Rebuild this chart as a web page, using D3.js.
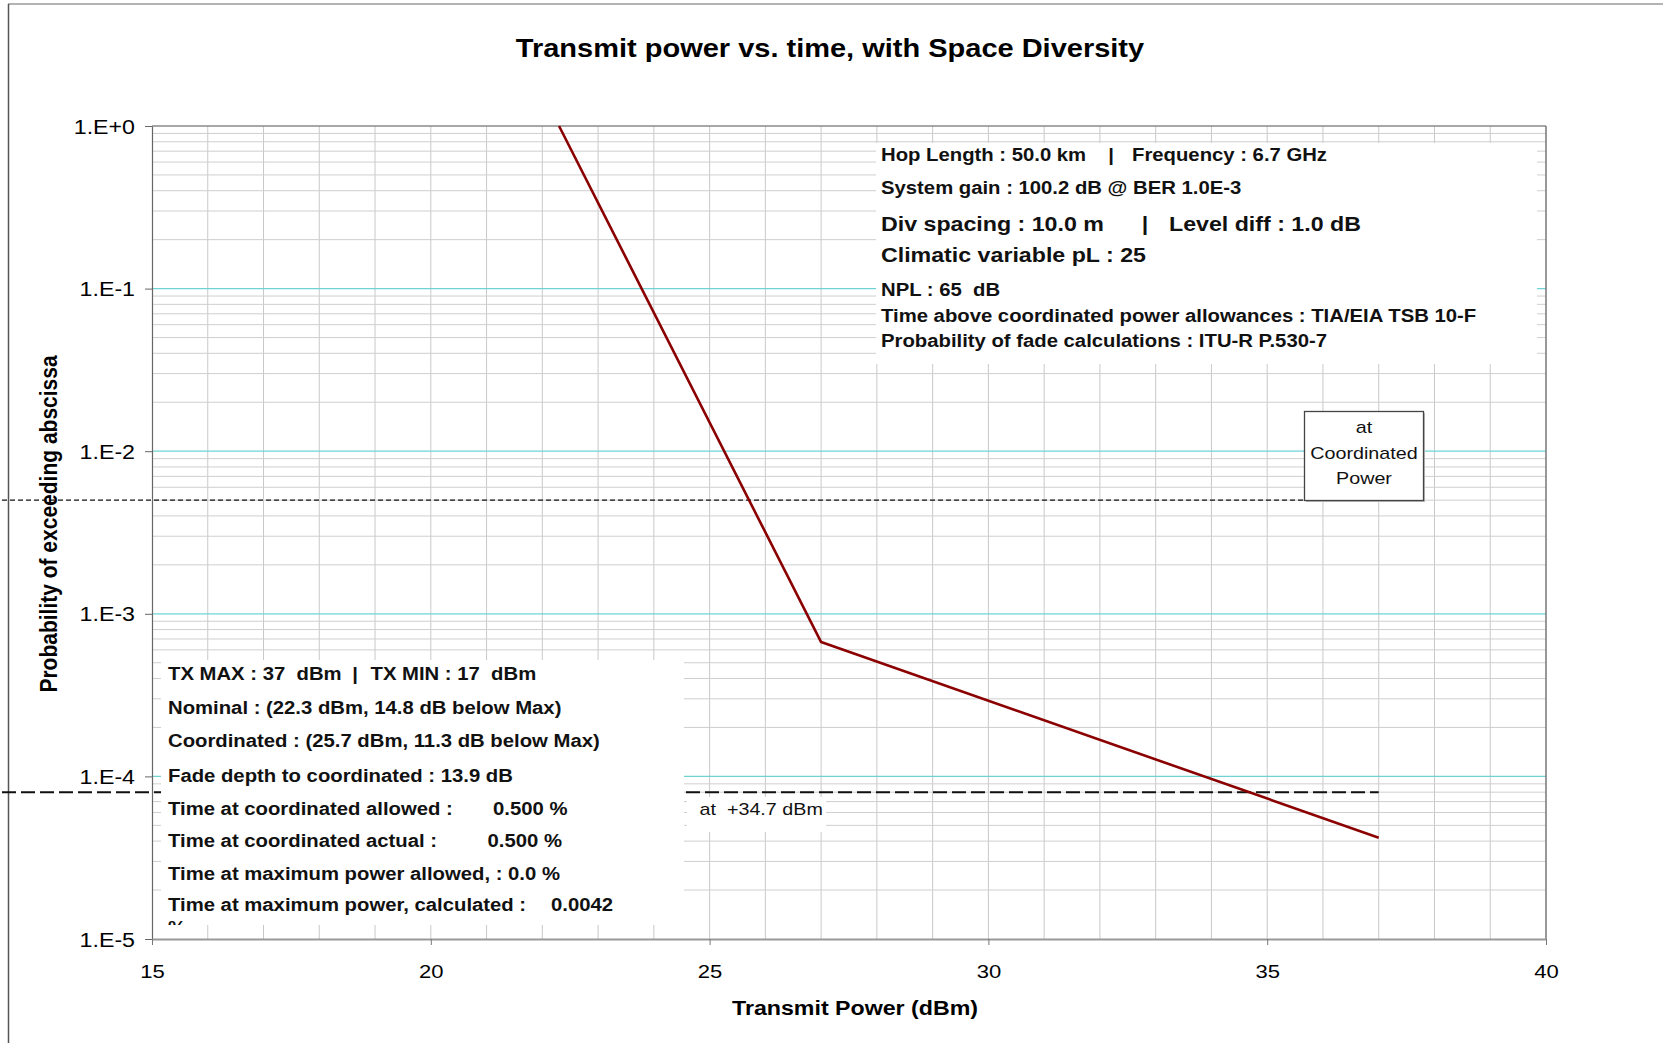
<!DOCTYPE html>
<html><head><meta charset="utf-8">
<script src="https://cdn.jsdelivr.net/npm/d3@7"></script>
<style>
html,body{margin:0;padding:0;background:#fff;overflow:hidden;}
svg text{font-family:"Liberation Sans",Arial,Helvetica,sans-serif;white-space:pre;}
</style></head><body>
<svg id="chart" width="1663" height="1043"></svg>
<script>
// ---------------- data ----------------
const powerDbm   = [22.3, 27.0, 37.0];
const exceedProb = [1.0, 6.7e-4, 4.2e-5];
const xTicks = [15, 20, 25, 30, 35, 40];
const xTickLabels = ["15", "20", "25", "30", "35", "40"];
const yTicks = [1, 1e-1, 1e-2, 1e-3, 1e-4, 1e-5];
const yTickLabels = ["1.E+0", "1.E-1", "1.E-2", "1.E-3", "1.E-4", "1.E-5"];
const coordinatedProb = 5e-3;   // 0.500 %
const maxPowerProb = 8.0e-5;    // crossing at +34.7 dBm
const txMaxDbm = 37;
const titleText = "Transmit power vs. time, with Space Diversity";
const xLabelText = "Transmit Power (dBm)";
const yLabelText = "Probability of exceeding abscissa";
const linkInfo = [
  ["Hop Length : 50.0 km", "|", "Frequency : 6.7 GHz"],
  ["System gain : 100.2 dB @ BER 1.0E-3"],
  ["Div spacing : 10.0 m", "|", "Level diff : 1.0 dB"],
  ["Climatic variable pL : 25"],
  ["NPL : 65  dB"],
  ["Time above coordinated power allowances : TIA/EIA TSB 10-F"],
  ["Probability of fade calculations : ITU-R P.530-7"]
];
const powerInfo = [
  ["TX MAX : 37  dBm", "|", "TX MIN : 17  dBm"],
  ["Nominal : (22.3 dBm, 14.8 dB below Max)"],
  ["Coordinated : (25.7 dBm, 11.3 dB below Max)"],
  ["Fade depth to coordinated : 13.9 dB"],
  ["Time at coordinated allowed :", "0.500 %"],
  ["Time at coordinated actual :", "0.500 %"],
  ["Time at maximum power allowed, : 0.0 %"],
  ["Time at maximum power, calculated :", "0.0042"],
  ["%"]
];
const coordBoxLines = ["at", "Coordinated", "Power"];
const maxPowerNote = "at  +34.7 dBm";

// ---------------- layout ----------------
const M = {left: 152, right: 1546, top: 126, bottom: 939};
const SX = 1.16;   // horizontal stretch of the original rendering
const svg = d3.select("#chart");
const x = d3.scaleLinear().domain([15, 40]).range([M.left, M.right]);
const y = d3.scaleLog().domain([1e-5, 1]).range([M.bottom, M.top]);

function label(parent, px, py, str, size, weight, anchor, fill) {
  return parent.append("text")
    .attr("transform", `translate(${px},${py}) scale(${SX},1)`)
    .attr("text-anchor", anchor || "start")
    .attr("font-size", size)
    .attr("font-weight", weight || "normal")
    .attr("fill", fill || "#000")
    .text(str);
}

svg.append("rect").attr("width", 1663).attr("height", 1043).attr("fill", "#fff");

// outer frame
svg.append("line").attr("x1", 8).attr("x2", 1663).attr("y1", 4).attr("y2", 4)
  .attr("stroke", "#9a9a9a").attr("stroke-width", 1.5);
svg.append("line").attr("x1", 8.5).attr("x2", 8.5).attr("y1", 4).attr("y2", 1043)
  .attr("stroke", "#555").attr("stroke-width", 1.5);

// grid
const grid = svg.append("g");
const vMinor = d3.range(16, 40, 1);
grid.selectAll("line.v").data(vMinor).join("line")
  .attr("x1", d => x(d)).attr("x2", d => x(d))
  .attr("y1", M.top).attr("y2", M.bottom)
  .attr("stroke", "#c9c9c9").attr("stroke-width", 1);
const hMinor = [];
for (let e = -5; e < 0; e++) for (let k = 2; k <= 9; k++) hMinor.push(k * Math.pow(10, e));
grid.selectAll("line.h").data(hMinor).join("line")
  .attr("x1", M.left).attr("x2", M.right)
  .attr("y1", d => y(d)).attr("y2", d => y(d))
  .attr("stroke", "#cfcfcf").attr("stroke-width", 1);
grid.selectAll("line.d").data(yTicks.slice(1, 5)).join("line")
  .attr("x1", M.left).attr("x2", M.right)
  .attr("y1", d => y(d)).attr("y2", d => y(d))
  .attr("stroke", "#6fd3d3").attr("stroke-width", 1.2);

// plot frame
svg.append("line").attr("x1", M.left).attr("x2", M.right).attr("y1", M.top).attr("y2", M.top)
  .attr("stroke", "#8a8a8a").attr("stroke-width", 1.5);
svg.append("line").attr("x1", M.right).attr("x2", M.right).attr("y1", M.top).attr("y2", M.bottom)
  .attr("stroke", "#777").attr("stroke-width", 1.5);

// axes
const yAxis = svg.append("g").attr("transform", `translate(${M.left},0)`)
  .call(d3.axisLeft(y).tickValues(yTicks).tickFormat((d, i) => yTickLabels[i]).tickSize(7).tickSizeOuter(0));
yAxis.select(".domain").attr("stroke", "#666").attr("stroke-width", 1.2);
yAxis.selectAll(".tick line").attr("stroke", "#666");
yAxis.selectAll(".tick text").attr("x", null).attr("dy", null)
  .attr("transform", `translate(-17,7) scale(${SX},1)`)
  .attr("font-size", 20).attr("font-family", null).attr("fill", "#000");

const xAxis = svg.append("g").attr("transform", `translate(0,${M.bottom})`)
  .call(d3.axisBottom(x).tickValues(xTicks).tickFormat((d, i) => xTickLabels[i]).tickSize(6).tickSizeOuter(0));
xAxis.select(".domain").attr("stroke", "#999").attr("stroke-width", 2.2);
xAxis.selectAll(".tick line").attr("stroke", "#777");
xAxis.selectAll(".tick text").attr("y", null).attr("dy", null)
  .attr("transform", `translate(0,39) scale(${SX},1)`)
  .attr("font-size", 19).attr("font-family", null).attr("fill", "#000");

// reference dashed lines
svg.append("line").attr("x1", 2).attr("x2", 1304.5)
  .attr("y1", y(coordinatedProb)).attr("y2", y(coordinatedProb))
  .attr("stroke", "#111").attr("stroke-width", 1.4).attr("stroke-dasharray", "5,3");
svg.append("line").attr("x1", 2).attr("x2", x(txMaxDbm))
  .attr("y1", y(maxPowerProb)).attr("y2", y(maxPowerProb))
  .attr("stroke", "#111").attr("stroke-width", 2).attr("stroke-dasharray", "14,5");

// data curve
const pts = powerDbm.map((p, i) => [p, exceedProb[i]]);
svg.append("path").datum(pts)
  .attr("d", d3.line().x(d => x(d[0])).y(d => y(d[1])))
  .attr("fill", "none").attr("stroke", "#8b0000").attr("stroke-width", 2.6)
  .attr("stroke-linejoin", "round");

// info box (top right)
svg.append("rect").attr("x", 876).attr("y", 143).attr("width", 661).attr("height", 221).attr("fill", "#fff");
const linkBase = [161, 194, 231, 262, 296, 322, 347];
const linkSize = [17.5, 17.5, 20, 20, 17.5, 17.5, 17.5];
const linkCols = {0: [881, 1111, 1132], 2: [881, 1145, 1169]};
linkInfo.forEach((row, i) => {
  row.forEach((s, j) => {
    const cx = linkCols[i] ? linkCols[i][j] : 881;
    label(svg, cx, linkBase[i], s, linkSize[i], "bold", s === "|" ? "middle" : "start", "#111");
  });
});

// power box (bottom left)
const clip = svg.append("clipPath").attr("id", "pclip");
clip.append("rect").attr("x", 161).attr("y", 660).attr("width", 523).attr("height", 265);
svg.append("rect").attr("x", 161).attr("y", 660).attr("width", 523).attr("height", 265).attr("fill", "#fff");
const pg = svg.append("g").attr("clip-path", "url(#pclip)");
const powBase = [680, 714, 747, 782, 815, 847, 880, 911, 934];
const powCols = {0: [168, 355, 370.5], 4: [168, 493], 5: [168, 487.5], 7: [168, 551]};
powerInfo.forEach((row, i) => {
  row.forEach((s, j) => {
    const cx = powCols[i] ? powCols[i][j] : 168;
    label(pg, cx, powBase[i], s, 17.5, "bold", s === "|" ? "middle" : "start", "#111");
  });
});

// "at +34.7 dBm" note
svg.append("rect").attr("x", 687).attr("y", 797).attr("width", 139).attr("height", 35).attr("fill", "#fff");
label(svg, 699.5, 815, maxPowerNote, 17, "normal", "start", "#111");

// "at Coordinated Power" box
svg.append("rect").attr("x", 1306).attr("y", 413).attr("width", 119).attr("height", 89).attr("fill", "#bbb");
svg.append("rect").attr("x", 1304.5).attr("y", 411.5).attr("width", 119).attr("height", 89)
  .attr("fill", "#fff").attr("stroke", "#444").attr("stroke-width", 1.3);
const cbBase = [433, 459, 484];
coordBoxLines.forEach((s, i) => label(svg, 1364, cbBase[i], s, 17, "normal", "middle", "#111"));

// titles
label(svg, 830, 57, titleText, 25, "bold", "middle", "#000");
label(svg, 855, 1015, xLabelText, 20, "bold", "middle", "#000");
svg.append("text")
  .attr("transform", `translate(57,524) rotate(-90) scale(1,${SX})`)
  .attr("text-anchor", "middle").attr("font-size", 21).attr("font-weight", "bold")
  .attr("fill", "#000").text(yLabelText);
</script>
</body></html>
